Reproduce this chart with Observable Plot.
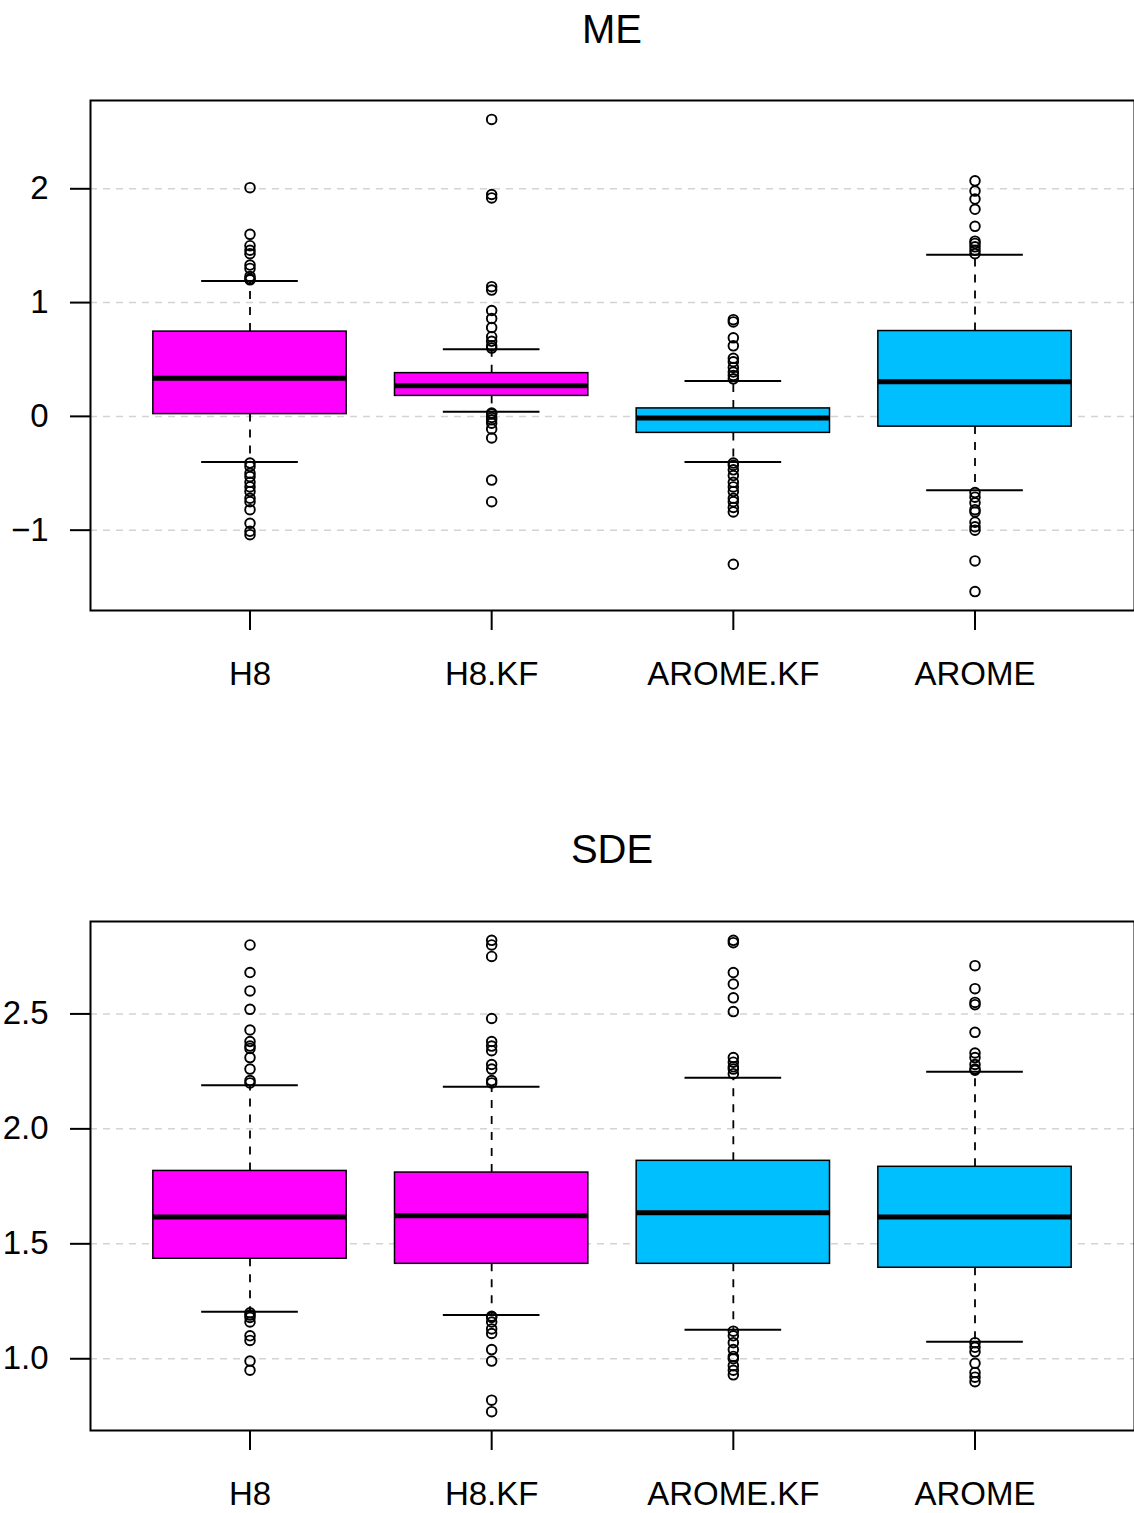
<!DOCTYPE html>
<html>
<head>
<meta charset="utf-8">
<script src="https://cdn.jsdelivr.net/npm/d3@7"></script>
<script src="https://cdn.jsdelivr.net/npm/@observablehq/plot@0.6"></script>
<style>
  html, body { margin: 0; padding: 0; background: #fff; }
  #page { position: relative; width: 1134px; height: 1513px; overflow: hidden; font-family: "Liberation Sans", Arial, Helvetica, sans-serif; }
  .title { position: absolute; left: 90px; width: 1044px; text-align: center; font-size: 40px; line-height: 40px; color: #000; }
  .panel { position: absolute; left: 0; }
</style>
</head>
<body>
<div id="page">
  <div class="title" style="top:8.5px">ME</div>
  <div class="panel" id="me" style="top:70px"></div>
  <div class="title" style="top:828.5px">SDE</div>
  <div class="panel" id="sde" style="top:891px"></div>
</div>
<script>
// ---------- data ----------
const groups = ["H8", "H8.KF", "AROME.KF", "AROME"];
const boxFill = ["#FF00FF", "#FF00FF", "#00BFFF", "#00BFFF"];

// ME panel
const meLowWhisker  = [-0.40, 0.04, -0.40, -0.65];
const meQ1          = [0.02, 0.18, -0.145, -0.09];
const meMedian      = [0.335, 0.27, -0.015, 0.305];
const meQ3          = [0.745, 0.38, 0.07, 0.75];
const meHighWhisker = [1.19, 0.59, 0.31, 1.42];
const meOutH8      = [2.01, 1.60, 1.50, 1.46, 1.43, 1.33, 1.30, 1.23, 1.21, 1.20,
                      -0.41, -0.44, -0.50, -0.53, -0.58, -0.62, -0.66, -0.72, -0.75, -0.82, -0.94, -1.01, -1.04];
const meOutH8KF    = [2.61, 1.95, 1.92, 1.14, 1.11, 0.93, 0.86, 0.78, 0.70, 0.66, 0.62, 0.60,
                      0.03, 0.02, -0.01, -0.03, -0.06, -0.11, -0.19, -0.56, -0.75];
const meOutAROMEKF = [0.85, 0.83, 0.69, 0.62, 0.51, 0.48, 0.43, 0.39, 0.36, 0.33,
                      -0.41, -0.43, -0.47, -0.52, -0.58, -0.62, -0.66, -0.72, -0.75, -0.80, -0.84, -1.30];
const meOutAROME   = [2.07, 1.98, 1.91, 1.82, 1.67, 1.54, 1.52, 1.49, 1.46, 1.43,
                      -0.67, -0.71, -0.76, -0.82, -0.84, -0.93, -0.97, -1.00, -1.27, -1.54];
const meTicks = [-1, 0, 1, 2];

// SDE panel
const sdeLowWhisker  = [1.205, 1.19, 1.126, 1.074];
const sdeQ1          = [1.435, 1.413, 1.413, 1.396];
const sdeMedian      = [1.617, 1.622, 1.635, 1.617];
const sdeQ3          = [1.817, 1.81, 1.861, 1.835];
const sdeHighWhisker = [2.19, 2.183, 2.222, 2.248];
const sdeOutH8      = [2.80, 2.68, 2.60, 2.52, 2.43, 2.38, 2.36, 2.35, 2.31, 2.26, 2.21, 2.20,
                       1.20, 1.19, 1.18, 1.16, 1.10, 1.08, 0.99, 0.95];
const sdeOutH8KF    = [2.82, 2.80, 2.75, 2.48, 2.38, 2.36, 2.34, 2.28, 2.26, 2.21, 2.20,
                       1.185, 1.18, 1.16, 1.13, 1.11, 1.04, 0.99, 0.82, 0.77];
const sdeOutAROMEKF = [2.82, 2.81, 2.68, 2.63, 2.57, 2.51, 2.31, 2.29, 2.27, 2.26, 2.24,
                       1.12, 1.10, 1.07, 1.04, 1.01, 1.00, 0.97, 0.95, 0.93];
const sdeOutAROME   = [2.71, 2.61, 2.55, 2.54, 2.42, 2.33, 2.31, 2.28, 2.26, 2.255,
                       1.07, 1.05, 1.03, 0.98, 0.94, 0.92, 0.90];
const sdeTicks = [1.0, 1.5, 2.0, 2.5];

// ---------- drawing ----------
const FONT = "Liberation Sans, Arial, Helvetica, sans-serif";

function panel({lo, q1, med, q3, hi, outs, ticks, tickFormat, height, marginBottom}) {
  const rows = groups.map((g, i) => ({pos: i + 1, lo: lo[i], q1: q1[i], med: med[i], q3: q3[i], hi: hi[i], fill: boxFill[i]}));
  const pts = outs.flatMap((arr, i) => arr.map(v => ({pos: i + 1, v})));
  const all = [...lo, ...hi, ...pts.map(d => d.v)];
  const [mn, mx] = d3.extent(all);
  const pad = (mx - mn) * 0.04;
  return Plot.plot({
    width: 1134,
    height,
    marginLeft: 90,
    marginRight: 0,
    marginTop: 30,
    marginBottom,
    style: {fontFamily: FONT, background: "#fff", color: "#000", overflow: "visible"},
    x: {type: "linear", domain: [0.34, 4.66]},
    y: {domain: [mn - pad, mx + pad]},
    marks: [
      Plot.ruleY(ticks, {stroke: "#d3d3d3", strokeWidth: 1.5, strokeDasharray: "7,6"}),
      Plot.ruleX(rows, {x: "pos", y1: "q3", y2: "hi", stroke: "#000", strokeWidth: 1.8, strokeDasharray: "8,8"}),
      Plot.ruleX(rows, {x: "pos", y1: "q1", y2: "lo", stroke: "#000", strokeWidth: 1.8, strokeDasharray: "8,8"}),
      Plot.ruleY(rows, {y: "hi", x1: d => d.pos - 0.2, x2: d => d.pos + 0.2, stroke: "#000", strokeWidth: 2}),
      Plot.ruleY(rows, {y: "lo", x1: d => d.pos - 0.2, x2: d => d.pos + 0.2, stroke: "#000", strokeWidth: 2}),
      Plot.rect(rows, {x1: d => d.pos - 0.4, x2: d => d.pos + 0.4, y1: "q1", y2: "q3", fill: "fill", stroke: "#000", strokeWidth: 1.5}),
      Plot.ruleY(rows, {y: "med", x1: d => d.pos - 0.4, x2: d => d.pos + 0.4, stroke: "#000", strokeWidth: 5}),
      Plot.dot(pts, {x: "pos", y: "v", r: 4.8, stroke: "#000", strokeWidth: 1.9, fill: "none"}),
      Plot.frame({stroke: "#000", strokeWidth: 2}),
      Plot.axisX({ticks: [1, 2, 3, 4], tickFormat: d => groups[d - 1], tickSize: 20, tickPadding: 31, fontSize: 33, strokeWidth: 2, label: null}),
      Plot.axisY({ticks, tickFormat, tickSize: 20, tickPadding: 22, fontSize: 33, strokeWidth: 2, label: null})
    ]
  });
}

document.getElementById("me").appendChild(panel({
  lo: meLowWhisker, q1: meQ1, med: meMedian, q3: meQ3, hi: meHighWhisker,
  outs: [meOutH8, meOutH8KF, meOutAROMEKF, meOutAROME],
  ticks: meTicks, tickFormat: d => d3.format("d")(d).replace("-", "\u2212"),
  height: 630, marginBottom: 90
}));

document.getElementById("sde").appendChild(panel({
  lo: sdeLowWhisker, q1: sdeQ1, med: sdeMedian, q3: sdeQ3, hi: sdeHighWhisker,
  outs: [sdeOutH8, sdeOutH8KF, sdeOutAROMEKF, sdeOutAROME],
  ticks: sdeTicks, tickFormat: d3.format(".1f"),
  height: 622, marginBottom: 83
}));
</script>
</body>
</html>
